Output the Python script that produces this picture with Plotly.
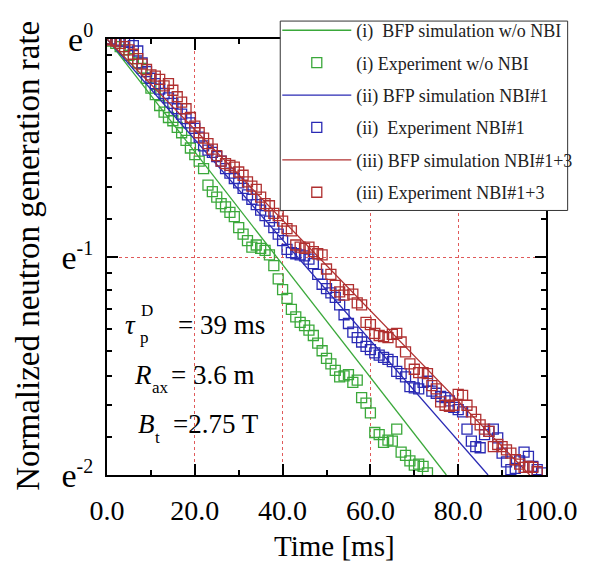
import math
import plotly.graph_objects as go

# ---------------- data ----------------
t_green = [0, 1, 2, 3, 4, 5, 6, 7, 8, 9, 10, 11, 12, 13, 14, 15, 16, 17, 18, 19,
           20, 21, 22, 23, 24, 25, 26, 27, 28, 29, 30, 31, 32, 33, 34, 35, 36, 37, 38, 39,
           40, 41, 42, 43, 44, 45, 46, 47, 48, 49, 50, 51, 52, 53, 54, 55, 56, 57, 58, 59,
           60, 61, 62, 63, 64, 65, 66, 67, 68, 69, 70, 71, 72, 73]
ln_green = [0.0, -0.01, -0.02, -0.035, -0.05, -0.075, -0.09, -0.11, -0.135, -0.18,
            -0.225, -0.255, -0.305, -0.335, -0.36, -0.375, -0.405, -0.43, -0.465, -0.50,
            -0.53, -0.56, -0.595, -0.67, -0.70, -0.725, -0.755, -0.77, -0.795, -0.815,
            -0.865, -0.895, -0.925, -0.955, -0.945, -0.96, -0.97, -0.99, -1.04, -1.10,
            -1.15, -1.19, -1.24, -1.275, -1.30, -1.315, -1.335, -1.36, -1.395, -1.43,
            -1.465, -1.49, -1.52, -1.55, -1.545, -1.54, -1.575, -1.565, -1.645, -1.67,
            -1.715, -1.805, -1.815, -1.85, -1.84, -1.845, -1.79, -1.895, -1.91, -1.935,
            -1.955, -1.95, -1.96, -1.99]

t_blue = [0, 1, 2, 3, 4, 5, 6, 7, 8, 9, 10, 11, 12, 13, 14, 15, 16, 17, 18, 19,
          20, 21, 22, 23, 24, 25, 26, 27, 28, 29, 30, 31, 32, 33, 34, 35, 36, 37, 38, 39,
          40, 41, 42, 43, 44, 45, 46, 47, 48, 49, 50, 51, 52, 53, 54, 55, 56, 57, 58, 59,
          60, 61, 62, 63, 64, 65, 66, 67, 68, 69, 70, 71, 72, 73, 74, 75, 76, 77, 78, 79,
          80, 81, 82, 83, 84, 85, 86, 87, 88, 89, 90, 91, 92, 93, 94, 95, 96, 97, 98, 99]
ln_blue = [0.0, 0.0, -0.005, -0.01, -0.01, -0.015, -0.03, -0.055, -0.11, -0.15,
           -0.18, -0.205, -0.23, -0.25, -0.27, -0.295, -0.32, -0.345, -0.365, -0.385,
           -0.41, -0.45, -0.49, -0.51, -0.52, -0.54, -0.56, -0.595, -0.615, -0.64,
           -0.66, -0.685, -0.715, -0.735, -0.76, -0.785, -0.81, -0.835, -0.865, -0.895,
           -0.925, -0.965, -0.98, -0.985, -0.99, -0.995, -1.01, -1.03, -1.08, -1.125,
           -1.145, -1.165, -1.185, -1.22, -1.265, -1.305, -1.345, -1.37, -1.39, -1.41,
           -1.425, -1.44, -1.45, -1.46, -1.47, -1.48, -1.525, -1.535, -1.55, -1.595,
           -1.60, -1.605, -1.575, -1.57, -1.615, -1.625, -1.64, -1.645, -1.66, -1.69,
           -1.70, -1.71, -1.79, -1.845, -1.87, -1.875, -1.815, -1.80, -1.79, -1.83,
           -1.90, -1.94, -1.975, -1.97, -1.935, -1.895, -1.915, -1.96, -1.975, -1.99]

t_red = [0, 1, 2, 3, 4, 5, 6, 7, 8, 9, 10, 11, 12, 13, 14, 15, 16, 17, 18, 19,
         20, 21, 22, 23, 24, 25, 26, 27, 28, 29, 30, 31, 32, 33, 34, 35, 36, 37, 38, 39,
         40, 41, 42, 43, 44, 45, 46, 47, 48, 49, 50, 51, 52, 53, 54, 55, 56, 57, 58, 59,
         60, 61, 62, 63, 64, 65, 66, 67, 68, 69, 70, 71, 72, 73, 74, 75, 76, 77, 78, 79,
         80, 81, 82, 83, 84, 85, 86, 87, 88, 89, 90, 91, 92, 93, 94, 95, 96, 97, 98]
ln_red = [0.0, -0.005, -0.01, -0.02, -0.035, -0.05, -0.07, -0.09, -0.115, -0.14,
          -0.165, -0.17, -0.185, -0.215, -0.205, -0.235, -0.265, -0.29, -0.32, -0.36,
          -0.40, -0.43, -0.455, -0.48, -0.505, -0.535, -0.56, -0.572, -0.58, -0.588,
          -0.61, -0.625, -0.655, -0.675, -0.69, -0.725, -0.755, -0.765, -0.80, -0.81,
          -0.835, -0.87, -0.88, -0.945, -0.955, -0.96, -0.955, -0.975, -0.985, -0.99,
          -1.055, -1.08, -1.13, -1.16, -1.175, -1.15, -1.17, -1.21, -1.22, -1.30,
          -1.31, -1.35, -1.36, -1.365, -1.37, -1.355, -1.35, -1.39, -1.435, -1.49,
          -1.515, -1.53, -1.53, -1.535, -1.59, -1.605, -1.665, -1.68, -1.685, -1.68,
          -1.63, -1.635, -1.68, -1.71, -1.745, -1.77, -1.79, -1.80, -1.87, -1.86,
          -1.87, -1.885, -1.90, -1.93, -1.95, -1.965, -1.96, -1.965, -1.985]

# BFP simulation lines (start and end points, ln of normalized rate)
sim_t_green = [0.0, 77.3]
sim_ln_green = [0.0, -2.0]
sim_t_blue = [0.0, 86.8]
sim_ln_blue = [0.0, -2.0]
sim_t_red = [0.0, 96.3]
sim_ln_red = [0.0, -2.0]

x_tick_vals = [0, 20, 40, 60, 80, 100]
x_tick_text = ["0.0", "20.0", "40.0", "60.0", "80.0", "100.0"]
x_minor_vals = [10, 30, 50, 70, 90]
y_tick_vals = [-2, -1, 0]
y_tick_exp = ["-2", "-1", "0"]

names = ["(i)  BFP simulation w/o NBI", "(i) Experiment w/o NBI",
         "(ii) BFP simulation NBI#1", "(ii)  Experiment NBI#1",
         "(iii) BFP simulation NBI#1+3", "(iii) Experiment NBI#1+3"]

# ---------------- styling ----------------
E1 = math.exp(-1)
E2 = math.exp(-2)
y_minor_vals = [math.log(E1 + k * (1 - E1) / 9) for k in range(1, 9)] + \
               [math.log(E2 + k * (E1 - E2) / 9) for k in range(1, 9)]
y_tick_text = [f"e<sup><span style='font-size:20px'>{e}</span></sup>" for e in y_tick_exp]

GREEN = "#3aa83a"
BLUE = "#2a2ab4"
RED = "#b03030"
FONT = "Liberation Serif"

W, H = 590, 563
L, R, T, B = 107, 37, 30, 88
PW, PH = W - L - R, H - T - B


def px(xp):
    return (xp - L) / PW


def py(yp):
    return (H - B - yp) / PH


fig = go.Figure()
series = [
    (sim_t_green, sim_ln_green, "lines", GREEN),
    (t_green, ln_green, "markers", GREEN),
    (sim_t_blue, sim_ln_blue, "lines", BLUE),
    (t_blue, ln_blue, "markers", BLUE),
    (sim_t_red, sim_ln_red, "lines", RED),
    (t_red, ln_red, "markers", RED),
]
for i, (xs, ys, mode, col) in enumerate(series):
    if mode == "lines":
        fig.add_trace(go.Scatter(x=xs, y=ys, mode="lines", name=names[i],
                                 legendgroup=f"g{i}",
                                 line=dict(color=col, width=1.3)))
    else:
        fig.add_trace(go.Scatter(x=xs, y=ys, mode="markers", name=names[i],
                                 legendgroup=f"g{i}",
                                 marker=dict(symbol="square-open", size=10, color=col,
                                             line=dict(width=1.3, color=col))))

axis_common = dict(showline=True, linecolor="black", linewidth=2, mirror="allticks",
                   ticks="inside", tickwidth=2, tickcolor="black", ticklen=11,
                   showgrid=True, gridcolor="#e05a5a", griddash="dot", gridwidth=1,
                   zeroline=False)

fig.update_xaxes(range=[0, 100], tickmode="array", tickvals=x_tick_vals, ticktext=x_tick_text,
                 tickfont=dict(family=FONT, size=28, color="black"), ticklabelstandoff=9,
                 minor=dict(tickmode="array", tickvals=x_minor_vals, ticks="inside",
                            ticklen=5, tickwidth=2, tickcolor="black", showgrid=False),
                 **axis_common)
fig.update_yaxes(range=[-2, 0], tickmode="array", tickvals=y_tick_vals, ticktext=y_tick_text,
                 tickfont=dict(family=FONT, size=34, color="black"), ticklabelstandoff=5,
                 minor=dict(tickmode="array", tickvals=y_minor_vals, ticks="inside",
                            ticklen=5, tickwidth=2, tickcolor="black", showgrid=False),
                 **axis_common)

ann_font = dict(family=FONT, size=27, color="black")
sub_font = dict(family=FONT, size=17, color="black")
annotations = [
    dict(text="Time [ms]", x=px(338), y=py(547), font=dict(family=FONT, size=29, color="black")),
    dict(text="Normalized neutron generation rate", x=px(26), y=py(251), textangle=-90,
         font=dict(family=FONT, size=33, color="black")),
    # tau row
    dict(text="<i>τ</i>", x=px(123), y=py(322), xanchor="left", font=ann_font),
    dict(text="p", x=px(139), y=py(335), xanchor="left", font=sub_font),
    dict(text="D", x=px(140), y=py(307), xanchor="left", font=sub_font),
    dict(text="= 39 ms", x=px(177), y=py(322), xanchor="left", font=ann_font),
    # R row
    dict(text="<i>R</i>", x=px(132), y=py(373), xanchor="left", font=ann_font),
    dict(text="ax", x=px(151), y=py(386), xanchor="left", font=sub_font),
    dict(text="= 3.6 m", x=px(170), y=py(373), xanchor="left", font=ann_font),
    # B row
    dict(text="<i>B</i>", x=px(136), y=py(423), xanchor="left", font=ann_font),
    dict(text="t", x=px(154), y=py(437), xanchor="left", font=sub_font),
    dict(text="=2.75 T", x=px(172), y=py(423), xanchor="left", font=ann_font),
]
for a in annotations:
    a.update(xref="paper", yref="paper", showarrow=False)
    a.setdefault("xanchor", "center")
    a.setdefault("yanchor", "middle")

# legend frame (white box that also hides the axes behind it)
legend_box = dict(type="rect", xref="paper", yref="paper",
                  x0=px(283), x1=px(575), y0=py(205), y1=py(11.7),
                  fillcolor="white", line=dict(color="#333333", width=1), layer="above")

fig.update_layout(
    width=W, height=H,
    margin=dict(l=L, r=R, t=T, b=B, pad=0),
    plot_bgcolor="white", paper_bgcolor="white",
    showlegend=True,
    legend=dict(x=px(280), y=py(2.5), xanchor="left", yanchor="top",
                bgcolor="rgba(0,0,0,0)", borderwidth=0,
                font=dict(family=FONT, size=18, color="#222"),
                itemwidth=69, traceorder="grouped", tracegroupgap=6),
    shapes=[legend_box],
    annotations=annotations,
)

fig.write_html("out.html")
